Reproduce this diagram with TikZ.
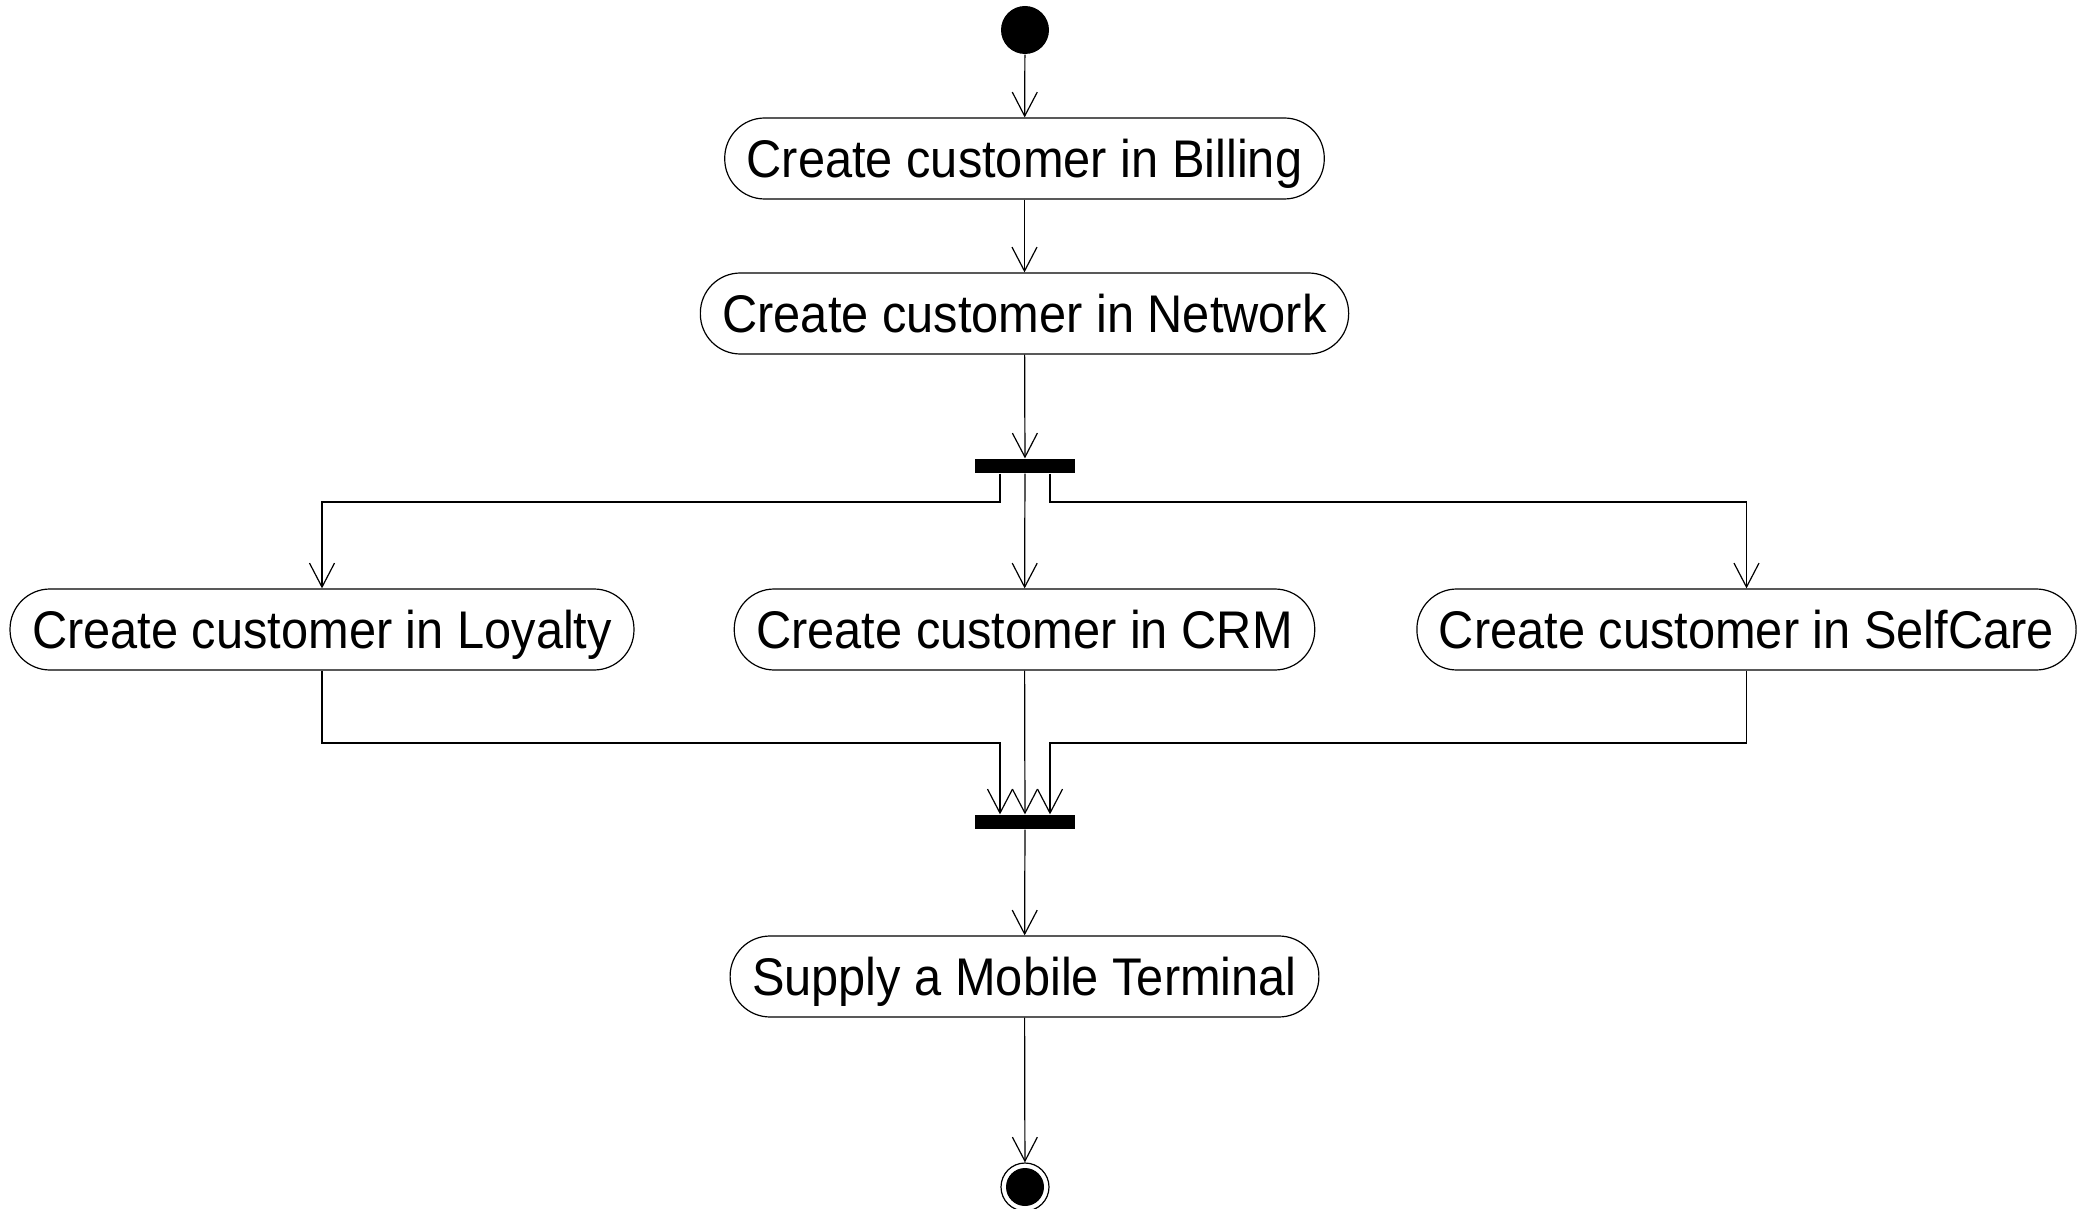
\documentclass[tikz,border=0pt]{standalone}
\usepackage{fontspec}
\setmainfont{Liberation Sans}[FakeStretch=0.92]
\usetikzlibrary{arrows.meta}
\begin{document}
\begin{tikzpicture}[x=0.5pt,y=-0.5pt,line width=0.6pt,
  action/.style={draw, rounded corners=20pt, minimum height=40.5pt, inner xsep=11pt, inner ysep=0pt, text height=19pt, text depth=0pt, font=\fontsize{26.5pt}{31pt}\selectfont},
  bar/.style={fill=black, minimum width=50pt, minimum height=7pt, inner sep=0pt},
  flow/.style={-{Straight Barb[length=12pt,width=12.5pt]}},
  startnode/.style={circle, fill=black, minimum size=24pt, inner sep=0pt},
  stopnode/.style={circle, draw, minimum size=24pt, inner sep=0pt, path picture={\fill (path picture bounding box.center) circle (9.5pt);}}]
\useasboundingbox (0,0) rectangle (2085,1209);
\node[startnode] (start) at (1025,30) {};
\node[action] (bill) at (1024.5,158.5) {Create customer in Billing};
\node[action] (net) at (1024.5,313.5) {Create customer in Network};
\node[bar] (fork) at (1025,466) {};
\node[action] (loy) at (322,629.5) {Create customer in Loyalty};
\node[action] (crm) at (1024.5,629.5) {Create customer in CRM};
\node[action] (self) at (1746.5,629.5) {Create customer in SelfCare};
\node[bar] (join) at (1025,822) {};
\node[action] (sup) at (1024.5,976.5) {Supply a Mobile Terminal};
\node[stopnode] (stop) at (1025,1187) {};
\coordinate (forkline) at (0,502);
\coordinate (joinline) at (0,743);
\coordinate (fl) at ([xshift=-12.5pt]fork.south);
\coordinate (fr) at ([xshift=12.5pt]fork.south);
\coordinate (jl) at ([xshift=-12.5pt]join.north);
\coordinate (jr) at ([xshift=12.5pt]join.north);
\draw[flow] (start) -- (bill);
\draw[flow] (bill) -- (net);
\draw[flow] (net) -- (fork);
\draw[flow] (fl) |- (forkline -| loy) -- (loy);
\draw[flow] (fork) -- (crm);
\draw[flow] (fr) |- (forkline -| self) -- (self);
\draw[flow] (loy) |- (joinline -| jl) -- (jl);
\draw[flow] (crm) -- (join);
\draw[flow] (self) |- (joinline -| jr) -- (jr);
\draw[flow] (join) -- (sup);
\draw[flow] (sup) -- (stop);
\end{tikzpicture}
\end{document}
